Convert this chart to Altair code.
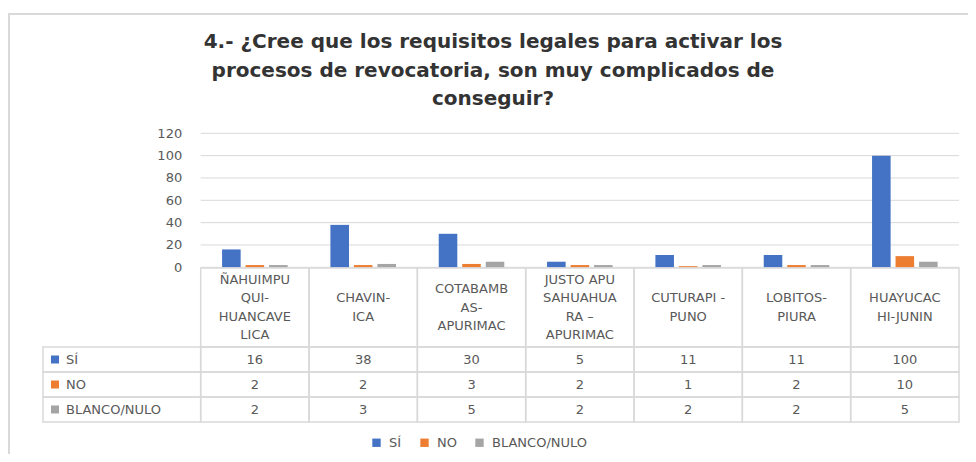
import altair as alt
import pandas as pd

# ---------------- data ----------------
title_lines = [
    "4.- ¿Cree que los requisitos legales para activar los",
    "procesos de revocatoria, son muy complicados de",
    "conseguir?",
]
categories = [
    "ÑAHUIMPUQUI-HUANCAVELICA",
    "CHAVIN-ICA",
    "COTABAMBAS-APURIMAC",
    "JUSTO APU SAHUAHUARA – APURIMAC",
    "CUTURAPI - PUNO",
    "LOBITOS-PIURA",
    "HUAYUCACHI-JUNIN",
]
header_lines = [
    ["ÑAHUIMPU", "QUI-", "HUANCAVE", "LICA"],
    ["CHAVIN-", "ICA"],
    ["COTABAMB", "AS-", "APURIMAC"],
    ["JUSTO APU", "SAHUAHUA", "RA –", "APURIMAC"],
    ["CUTURAPI -", "PUNO"],
    ["LOBITOS-", "PIURA"],
    ["HUAYUCAC", "HI-JUNIN"],
]
series = ["SÍ", "NO", "BLANCO/NULO"]
si = [16, 38, 30, 5, 11, 11, 100]
no = [2, 2, 3, 2, 1, 2, 10]
blanco = [2, 3, 5, 2, 2, 2, 5]
y_ticks = [0, 20, 40, 60, 80, 100, 120]
colors = ["#4472C4", "#ED7D31", "#A5A5A5"]

rows = []
for s, vals in zip(series, [si, no, blanco]):
    for c, v in zip(categories, vals):
        rows.append({"category": c, "series": s, "value": v})
df = pd.DataFrame(rows)

hrows = []
for c, lines in zip(categories, header_lines):
    n = len(lines)
    for i, ln in enumerate(lines):
        hrows.append({"category": c, "line": ln, "off": i - (n - 1) / 2})
hdr_lines = pd.DataFrame(hrows)
hdr = pd.DataFrame({"category": categories})
ticks = pd.DataFrame({"tick": y_ticks})
lab = pd.DataFrame({"series": series})
ttl = pd.DataFrame({"t": ["\n".join(title_lines)]})
one = pd.DataFrame({"k": [0]})

# ---------------- layout / style ----------------
W, H = 960, 446
X0, X1 = 192.7, 951.0          # table value columns
LAB_X = 35                     # left edge of label column
Y0, YTOP = 259.3, 125.3        # value 0 / 120
HDR_TOP, HDR_BOT, ROW_BOT = 260, 339, 414
HDR_MID = (HDR_TOP + HDR_BOT) / 2
LINE_H = 18.5
GRID = "#d9d9d9"
TXT = "#595959"
FONT = "DejaVu Sans"
FS = 13

xs = alt.Scale(domain=categories, range=[X0, X1], paddingInner=0, paddingOuter=0)
ys = alt.Scale(domain=[0, 120], range=[Y0, YTOP], nice=False)
rs = alt.Scale(domain=series, range=[HDR_BOT, ROW_BOT], paddingInner=0, paddingOuter=0)
ls = alt.Scale(domain=[-1, 1], range=[HDR_MID - LINE_H, HDR_MID + LINE_H],
               nice=False, zero=False)
cs = alt.Scale(domain=series, range=colors)
leg = alt.Legend(orient="none", legendX=362, legendY=428, direction="horizontal",
                 columns=3, title=None, symbolType="square", symbolSize=70,
                 symbolStrokeWidth=0, symbolOpacity=1, labelFont=FONT,
                 labelFontSize=FS, labelColor=TXT, labelOffset=6,
                 columnPadding=16, padding=0)
X = alt.X("category:N", scale=xs, sort=categories, axis=None)

frame_top = alt.Chart(one).mark_rule(color="#d9d9d9", strokeWidth=2).encode(
    x=alt.value(0), x2=alt.value(W), y=alt.value(6))
frame_left = alt.Chart(one).mark_rule(color="#d9d9d9", strokeWidth=2).encode(
    x=alt.value(1), y=alt.value(6), y2=alt.value(H))

title = alt.Chart(ttl).mark_text(
    lineBreak="\n", align="center", baseline="middle", font=FONT,
    fontWeight="bold", fontSize=20, lineHeight=28.5, color="#333333"
).encode(text="t:N", x=alt.value(485), y=alt.value(34))

grid = alt.Chart(ticks).mark_rule(color=GRID, strokeWidth=1).encode(
    y=alt.Y("tick:Q", scale=ys, axis=None),
    x=alt.value(X0), x2=alt.value(X1))

bars = alt.Chart(df).mark_bar().encode(
    x=X,
    xOffset=alt.XOffset("series:N", sort=series,
                        scale=alt.Scale(domain=series, paddingInner=0.21, paddingOuter=0.91)),
    y=alt.Y("value:Q", scale=ys,
            axis=alt.Axis(values=y_ticks, offset=-X0, labelPadding=19, ticks=False,
                          domain=False, grid=False, title=None, labelFont=FONT,
                          labelFontSize=FS, labelColor=TXT)),
    color=alt.Color("series:N", scale=cs, sort=series, legend=leg),
)

hdr_cells = alt.Chart(hdr).mark_rect(
    fill="#ffffff", fillOpacity=0, stroke=GRID, strokeWidth=1.5
).encode(x=X, y=alt.value(HDR_TOP), y2=alt.value(HDR_BOT))

hdr_text = alt.Chart(hdr_lines).mark_text(
    align="center", baseline="middle", font=FONT, fontSize=FS, color=TXT
).encode(x=X, y=alt.Y("off:Q", scale=ls, axis=None), text="line:N")

Yr = alt.Y("series:N", scale=rs, sort=series, axis=None)

row_cells = alt.Chart(df).mark_rect(
    fill="#ffffff", fillOpacity=0, stroke=GRID, strokeWidth=1.5
).encode(x=X, y=Yr)

lab_cells = alt.Chart(lab).mark_rect(
    fill="#ffffff", fillOpacity=0, stroke=GRID, strokeWidth=1.5
).encode(x=alt.value(LAB_X), x2=alt.value(X0), y=Yr)

lab_sq = alt.Chart(lab).mark_square(size=64, opacity=1).encode(
    x=alt.value(47), y=Yr,
    color=alt.Color("series:N", scale=cs, sort=series, legend=leg))

lab_text = alt.Chart(lab).mark_text(
    align="left", baseline="middle", font=FONT, fontSize=FS, color=TXT
).encode(x=alt.value(58), y=Yr, text="series:N")

val_text = alt.Chart(df).mark_text(
    align="center", baseline="middle", font=FONT, fontSize=FS, color=TXT
).encode(x=X, y=Yr, text="value:Q")

chart = alt.layer(
    frame_top, frame_left, title, grid, bars,
    hdr_cells, hdr_text, row_cells, lab_cells, lab_sq, lab_text, val_text,
).resolve_scale(y="independent").properties(
    width=W, height=H, padding=0,
    autosize=alt.AutoSizeParams(type="none"),
).configure_view(stroke=None)

chart.save("out.html", embed_options={"renderer": "svg", "actions": False})
